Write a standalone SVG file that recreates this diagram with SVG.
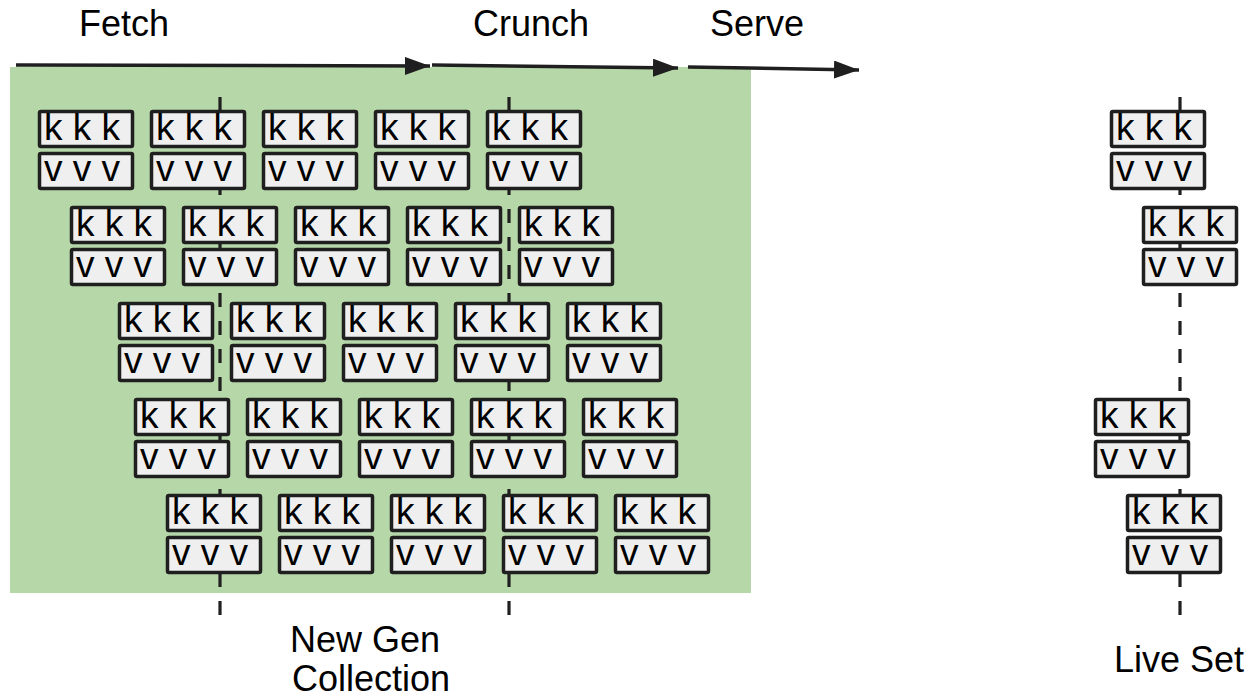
<svg xmlns="http://www.w3.org/2000/svg" width="1255" height="698" viewBox="0 0 1255 698">
  <style>
    .label { font-family: "Liberation Sans", Arial, sans-serif; font-size: 36px; fill: #000; }
    .cell { fill: #efefef; stroke: #1f1f1f; stroke-width: 3.5; }
    .cell-text { font-family: "Liberation Sans", Arial, sans-serif; font-size: 37px; fill: #000; }
    .divider { stroke: #1f1f1f; stroke-width: 3.2; stroke-dasharray: 14 14; fill: none; }
    .flow { stroke: #1f1f1f; stroke-width: 3.5; fill: none; marker-end: url(#head); }
  </style>
  <defs>
    <marker id="head" markerUnits="userSpaceOnUse" markerWidth="26" markerHeight="20" refX="25" refY="9" orient="auto">
      <path d="M0,0 L25,9 L0,18 Z" fill="#1f1f1f"/>
    </marker>
    <!-- one key/value pair: key cell on top, value cell beneath -->
    <g id="kv">
      <rect class="cell" x="1.5" y="1.5" width="93" height="35" rx="1.5"/>
      <text class="cell-text" x="6" y="30">k k k</text>
      <rect class="cell" x="1.5" y="43.5" width="93" height="35" rx="1.5"/>
      <text class="cell-text" x="6" y="71">v v v</text>
    </g>
  </defs>

  <!-- new generation area -->
  <rect id="new-gen-area" x="10" y="67" width="741" height="526" fill="#b6d7a8"/>

  <!-- stage labels -->
  <text class="label" x="79" y="36">Fetch</text>
  <text class="label" x="473" y="36">Crunch</text>
  <text class="label" x="710" y="36">Serve</text>

  <!-- collection boundaries (drawn under the pairs) -->
  <g id="dividers">
    <line class="divider" x1="220" y1="97" x2="220" y2="616"/>
    <line class="divider" x1="509" y1="97" x2="509" y2="616"/>
    <line class="divider" x1="1180" y1="97" x2="1180" y2="616"/>
  </g>

  <!-- stage arrows -->
  <g id="connectors">
    <line class="flow" x1="16" y1="65" x2="430" y2="66"/>
    <line class="flow" x1="432" y1="65" x2="678" y2="68"/>
    <line class="flow" x1="688" y1="67" x2="859" y2="70"/>
  </g>

  <!-- pairs in the new generation -->
  <g id="row1">
    <use id="n1-1" href="#kv" x="38" y="110"/>
    <use id="n1-2" href="#kv" x="150" y="110"/>
    <use id="n1-3" href="#kv" x="262" y="110"/>
    <use id="n1-4" href="#kv" x="374" y="110"/>
    <use id="n1-5" href="#kv" x="486" y="110"/>
  </g>
  <g id="row2">
    <use id="n2-1" href="#kv" x="70" y="206"/>
    <use id="n2-2" href="#kv" x="182" y="206"/>
    <use id="n2-3" href="#kv" x="294" y="206"/>
    <use id="n2-4" href="#kv" x="406" y="206"/>
    <use id="n2-5" href="#kv" x="518" y="206"/>
  </g>
  <g id="row3">
    <use id="n3-1" href="#kv" x="118" y="302"/>
    <use id="n3-2" href="#kv" x="230" y="302"/>
    <use id="n3-3" href="#kv" x="342" y="302"/>
    <use id="n3-4" href="#kv" x="454" y="302"/>
    <use id="n3-5" href="#kv" x="566" y="302"/>
  </g>
  <g id="row4">
    <use id="n4-1" href="#kv" x="134" y="398"/>
    <use id="n4-2" href="#kv" x="246" y="398"/>
    <use id="n4-3" href="#kv" x="358" y="398"/>
    <use id="n4-4" href="#kv" x="470" y="398"/>
    <use id="n4-5" href="#kv" x="582" y="398"/>
  </g>
  <g id="row5">
    <use id="n5-1" href="#kv" x="166" y="494"/>
    <use id="n5-2" href="#kv" x="278" y="494"/>
    <use id="n5-3" href="#kv" x="390" y="494"/>
    <use id="n5-4" href="#kv" x="502" y="494"/>
    <use id="n5-5" href="#kv" x="614" y="494"/>
  </g>

  <!-- surviving pairs -->
  <g id="live-set">
    <use id="live-1" href="#kv" x="1110" y="110"/>
    <use id="live-2" href="#kv" x="1142" y="206"/>
    <use id="live-3" href="#kv" x="1094" y="398"/>
    <use id="live-4" href="#kv" x="1126" y="494"/>
  </g>

  <!-- captions -->
  <text class="label" x="290" y="652">New Gen</text>
  <text class="label" x="292" y="691">Collection</text>
  <text class="label" x="1114" y="672">Live Set</text>
</svg>
